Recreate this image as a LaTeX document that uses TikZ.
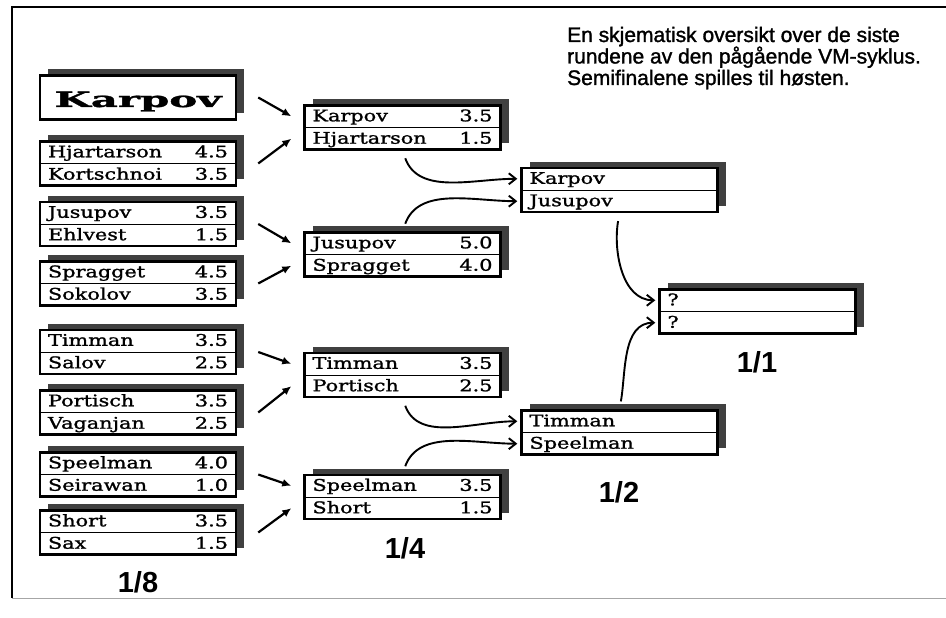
\documentclass[tikz,border=0pt]{standalone}
\usepackage{fontspec}
\usepackage{graphicx}
\usetikzlibrary{positioning,shadows,arrows.meta}

\newfontfamily\rowfont[FakeStretch=1.3, FakeBold=1.4]{DejaVu Serif}
\newfontfamily\headfont{Liberation Sans}
\newfontfamily\notefont[FakeBold=1.4]{Liberation Sans}

\tikzset{
  duelbox/.style={draw, line width=2.5pt, fill=white, minimum width=196pt,
    minimum height=44pt, inner sep=0pt,
    general shadow={shadow xshift=8pt, shadow yshift=6pt, fill=black!75}},
  player/.style={minimum width=196pt, text width=180pt, minimum height=22pt,
    inner xsep=8pt, inner ysep=0pt, text height=14pt, text depth=4pt,
    font=\rowfont\fontsize{16}{18}\selectfont},
  divider/.style={line width=0.8pt},
  feed/.style={-{Latex[length=9pt,width=8pt]}, line width=2.2pt},
  advance/.style={-{Straight Barb[length=7pt,width=11pt]}, line width=1.9pt,
    shorten <=8pt, shorten >=4pt},
  roundlabel/.style={font=\headfont\bfseries\fontsize{29}{30}\selectfont},
  note/.style={align=left, inner sep=0pt,
    font=\notefont\fontsize{21}{21.5}\selectfont}
}

% 一个对局框：名字, 位置, 上行选手/比分, 下行选手/比分
\newcommand\duel[6]{%
  \node[duelbox] (#1) at (#2) {};
  \draw[divider] (#1.west) -- (#1.east);
  \node[player, above=0pt of #1.center] (#1-1) {#3\hfill#4};
  \node[player, below=0pt of #1.center] (#1-2) {#5\hfill#6};
}

\begin{document}
\begin{tikzpicture}[x=1pt, y=1pt]
    \useasboundingbox (0,0) rectangle (946,618);

    % 外框
    \draw[line width=2.5pt] (946,611) -- (12,611) -- (12,20);
    \draw[black!35, line width=0.8pt] (12,20) -- (946,20);

    % 说明文字
    \node[note, anchor=base west] (note) at (567,533)
      {En skjematisk oversikt over de siste\\
       rundene av den pågående VM-syklus.\\
       Semifinalene spilles til høsten.};

    % 1/8 决赛
    \node[duelbox] (b8a) at (138,520.5) {};
    \node[anchor=base] (b8a-1) at ([yshift=-9.5pt]b8a.center)
      {\resizebox{167pt}{15.5pt}{\rowfont\bfseries Karpov}};
    \duel{b8b}{138,454.5}{Hjartarson}{4.5}{Kortschnoi}{3.5}
    \duel{b8c}{138,394}{Jusupov}{3.5}{Ehlvest}{1.5}
    \duel{b8d}{138,334.5}{Spragget}{4.5}{Sokolov}{3.5}
    \duel{b8e}{138,266}{Timman}{3.5}{Salov}{2.5}
    \duel{b8f}{138,205.5}{Portisch}{3.5}{Vaganjan}{2.5}
    \duel{b8g}{138,143.5}{Speelman}{4.0}{Seirawan}{1.0}
    \duel{b8h}{138,85.5}{Short}{3.5}{Sax}{1.5}
    \node[roundlabel] (r8) at (138,36) {1/8};

    % 1/4 决赛
    \duel{b4a}{402.5,490.5}{Karpov}{3.5}{Hjartarson}{1.5}
    \duel{b4b}{402.5,363.5}{Jusupov}{5.0}{Spragget}{4.0}
    \duel{b4c}{402.5,243}{Timman}{3.5}{Portisch}{2.5}
    \duel{b4d}{402.5,121}{Speelman}{3.5}{Short}{1.5}
    \node[roundlabel] (r4) at (405,70) {1/4};

    % 半决赛与决赛
    \duel{b2a}{619.5,428}{Karpov}{}{Jusupov}{}
    \duel{b2b}{619.5,185.5}{Timman}{}{Speelman}{}
    \node[roundlabel] (r2) at (619,126) {1/2};
    \duel{b1}{757.5,306.5}{?}{}{?}{}
    \node[roundlabel] (r1) at (757,256) {1/1};

    % 直箭头
    \draw[feed] ([xshift=21pt]b8a.east) -- ([xshift=-13pt]b4a-1.west);
    \draw[feed] ([xshift=21pt]b8b.east) -- ([xshift=-13pt]b4a-2.west);
    \draw[feed] ([xshift=21pt]b8c.east) -- ([xshift=-13pt]b4b-1.west);
    \draw[feed] ([xshift=21pt]b8d.east) -- ([xshift=-13pt]b4b-2.west);
    \draw[feed] ([xshift=21pt]b8e.east) -- ([xshift=-13pt]b4c-1.west);
    \draw[feed] ([xshift=21pt]b8f.east) -- ([xshift=-13pt]b4c-2.west);
    \draw[feed] ([xshift=21pt]b8g.east) -- ([xshift=-13pt]b4d-1.west);
    \draw[feed] ([xshift=21pt]b8h.east) -- ([xshift=-13pt]b4d-2.west);

    % 弯箭头
    \draw[advance] (b4a.south) to[out=-70, in=180] (b2a-1.west);
    \draw[advance] (b4b.north) to[out=70, in=180] (b2a-2.west);
    \draw[advance] (b4c.south) to[out=-70, in=180] (b2b-1.west);
    \draw[advance] (b4d.north) to[out=70, in=180] (b2b-2.west);
    \draw[advance] (b2a.south) to[out=-100, in=180] (b1-1.west);
    \draw[advance] (b2b.north) to[out=80, in=180] (b1-2.west);
\end{tikzpicture}
\end{document}
